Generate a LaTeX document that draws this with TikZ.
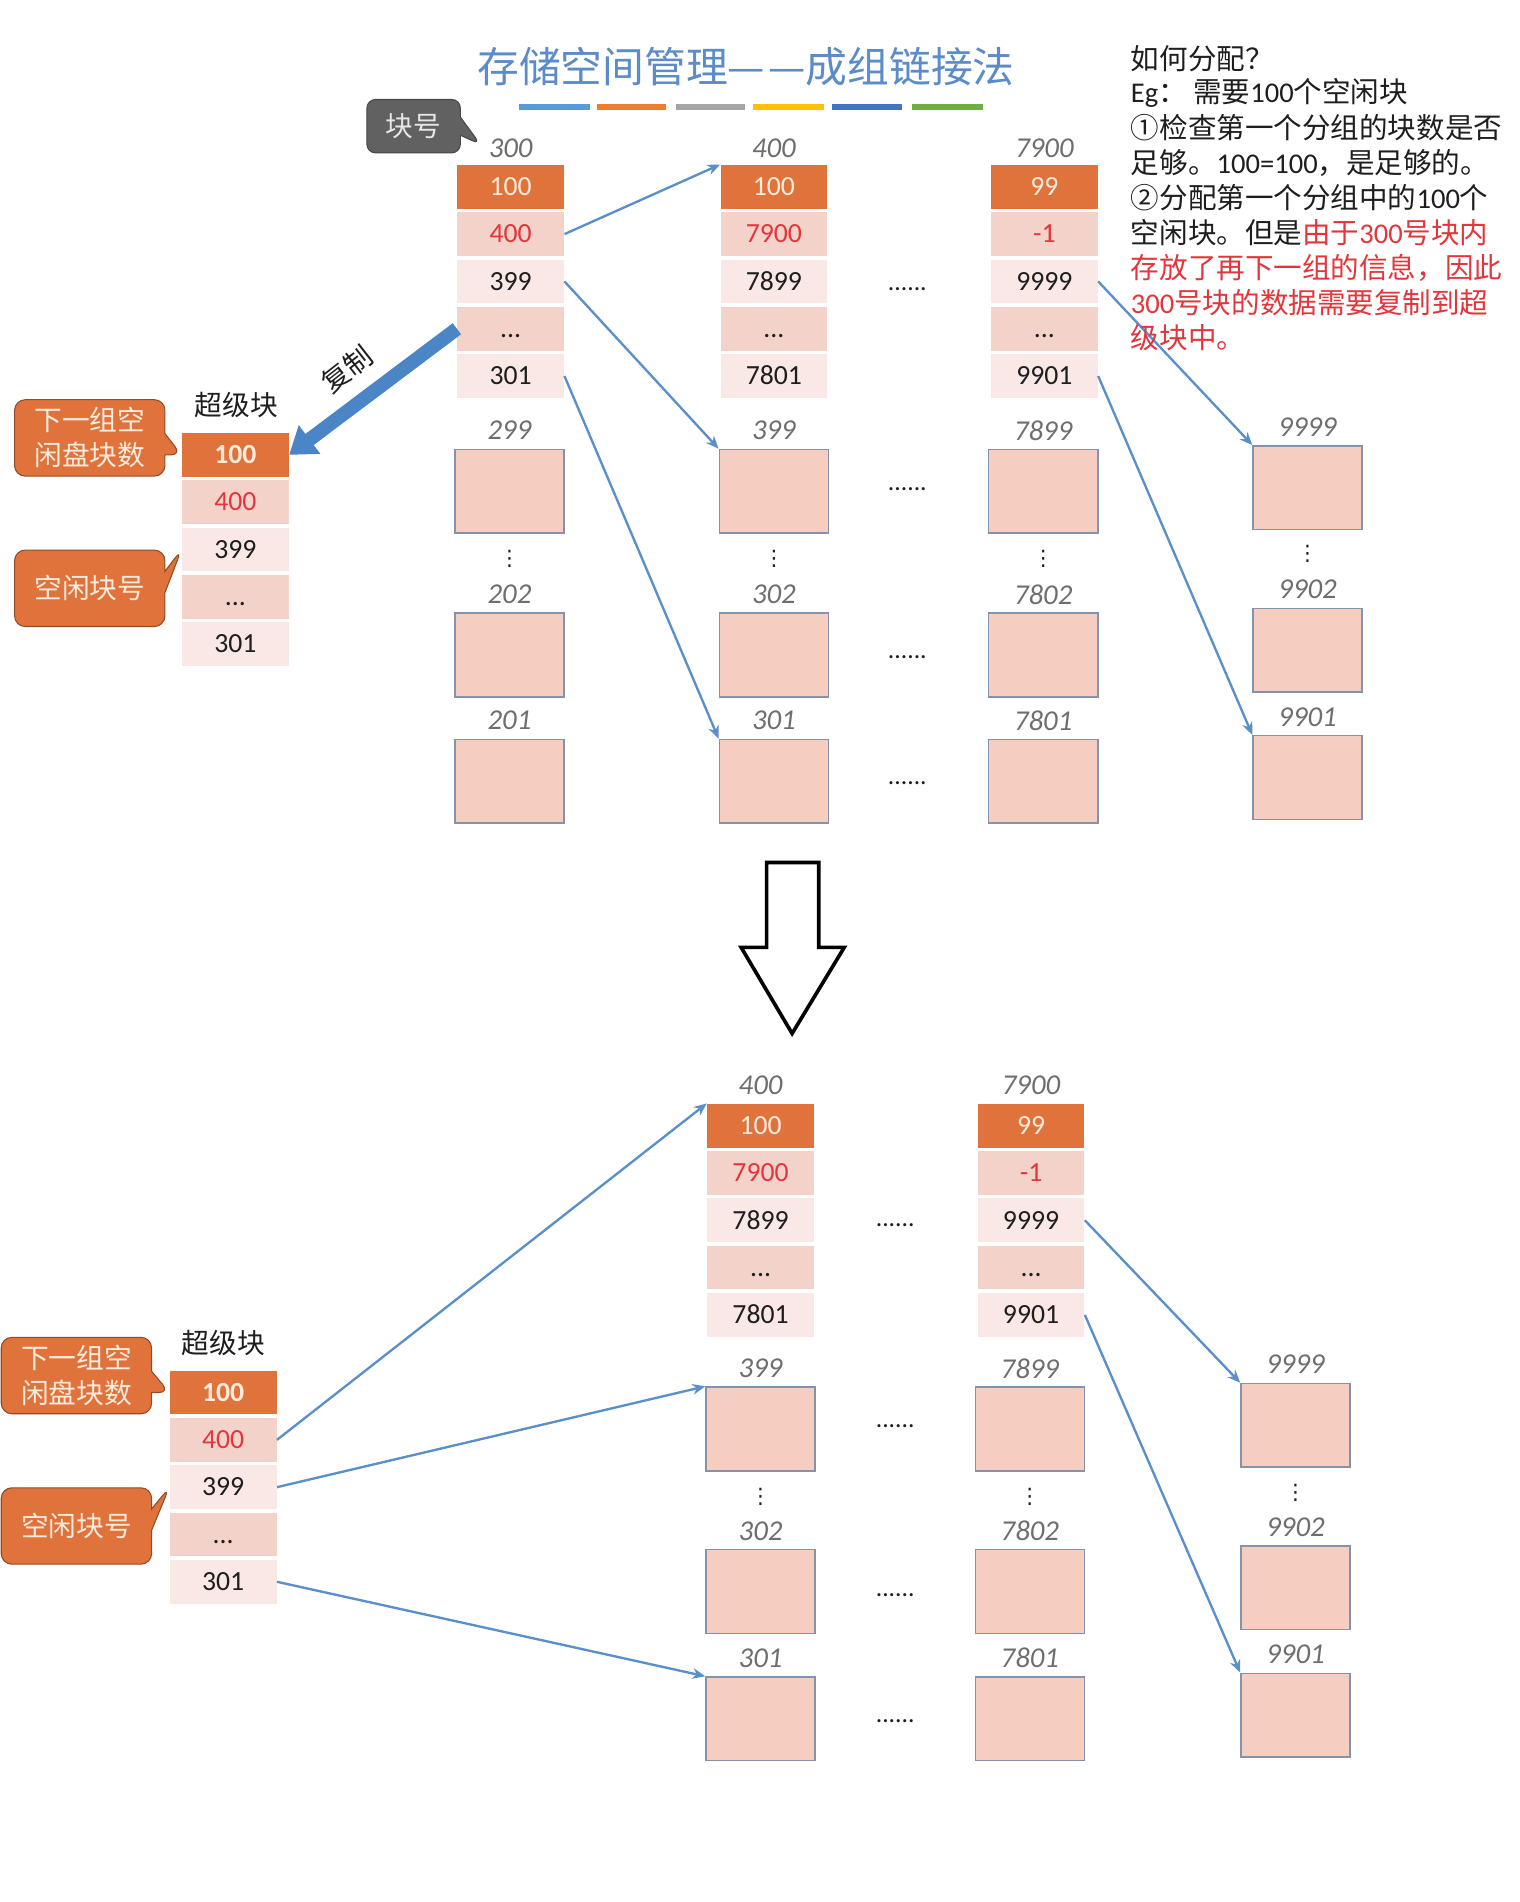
\documentclass[tikz,border=0pt]{standalone}
\usepackage{fontspec}
\setmainfont{Carlito}
\newfontfamily\cjk{Noto Sans CJK SC}
\newfontfamily\sym{DejaVu Sans}
\usetikzlibrary{arrows.meta, shapes.callouts}
\definecolor{TitleBlu}{HTML}{5B8CC8}
\definecolor{LinkBlu} {HTML}{5B8FC9}
\definecolor{CopyBlu} {HTML}{4A86C6}
\definecolor{HeadOrg} {HTML}{E0733B}
\definecolor{BandPnk} {HTML}{F3D2CA}
\definecolor{BandLt}  {HTML}{F9E8E5}
\definecolor{BlkPnk}  {HTML}{F6CDC1}
\definecolor{BlkEdge} {HTML}{8593AA}
\definecolor{NumGry}  {HTML}{6E6E6E}
\definecolor{TagGry}  {HTML}{616161}
\definecolor{TagTxt}  {HTML}{E6E6E6}
\definecolor{TxtRed}  {HTML}{E2363C}
\definecolor{Ink}     {HTML}{1E1E1E}
\definecolor{Cream}   {HTML}{FDEBDD}
\definecolor{BarBlu}  {HTML}{5B9BD5}
\definecolor{BarOrg}  {HTML}{ED7D31}
\definecolor{BarGry}  {HTML}{A5A5A5}
\definecolor{BarYel}  {HTML}{FFC000}
\definecolor{BarNvy}  {HTML}{4472C4}
\definecolor{BarGrn}  {HTML}{70AD47}

\begin{document}
\begin{tikzpicture}[
  x=0.02cm, y=-0.02cm,
  every node/.style={inner sep=0pt, align=center},
  zh/.style    = {font=\cjk\fontsize{13pt}{16.4pt}\selectfont},
  rnote/.style = {font=\cjk\fontsize{13.4pt}{16pt}\selectfont, text=Ink, anchor=west},
  cell/.style  = {minimum width=1.76cm, minimum height=0.72cm, text height=8.2pt,
                  text depth=0pt, font=\fontsize{13pt}{15pt}\selectfont},
  hrow/.style  = {cell, fill=HeadOrg, text=Cream},
  bandA/.style = {cell, fill=BandPnk, text=Ink},
  bandB/.style = {cell, fill=BandLt, text=Ink},
  lbl/.style   = {font=\fontsize{13.5pt}{16pt}\selectfont\itshape, text=NumGry},
  blk/.style   = {draw=BlkEdge, fill=BlkPnk, line width=0.7pt,
                  minimum width=1.8cm, minimum height=1.38cm},
  hdots/.style = {font=\fontsize{12pt}{14pt}\selectfont, text=Ink},
  vdot/.style  = {font=\sym\fontsize{10pt}{12pt}\selectfont, text=Ink},
  lnk/.style   = {draw=LinkBlu, line width=1.1pt, -{Stealth[length=6pt,width=5pt]}},
  orgtag/.style= {rectangle callout, zh, fill=HeadOrg, draw=HeadOrg!65!black,
                  line width=0.5pt, rounded corners=5pt, text=Cream,
                  minimum width=2.48cm, minimum height=1.26cm, callout pointer width=0.35cm},
  grytag/.style= {rectangle callout, zh, fill=TagGry, draw=TagGry!75!black,
                  line width=0.5pt, rounded corners=4pt, text=TagTxt,
                  minimum width=1.54cm, minimum height=0.88cm, callout pointer width=0.3cm},
]
\fill[white] (0,0) rectangle (1253,1568);
\useasboundingbox (0,0) rectangle (1253,1568);

% title and colour bars
\node[font=\cjk\fontsize{19.6pt}{22pt}\selectfont, text=TitleBlu] (title) at (615,55)
     {存储空间管理—\kern1.5pt—成组链接法};
\foreach \xa/\xb/\cl in {428/486/BarBlu, 492/549/BarOrg, 557/614/BarGry,
                         621/679/BarYel, 686/744/BarNvy, 752/810/BarGrn}{
  \fill[fill=\cl] (\xa,86) rectangle (\xb,91);
}

% group tables (superblocks and index blocks)
\foreach \nm/\cx/\cy/\va/\vb/\vc/\ve in {
    s1/194/375/\textbf{100}/400/399/301,
    t300/421/154/100/400/399/301,
    t400/638/154/100/7900/7899/7801,
    t7900/861/154/99/-1/9999/9901,
    s2/184/1148/\textbf{100}/400/399/301,
    b400/627/928/100/7900/7899/7801,
    b7900/850/928/99/-1/9999/9901}{
  \node[hrow]               (\nm-1) at (\cx,\cy)     {\va};
  \node[bandA, text=TxtRed] (\nm-2) at (\cx,\cy+39)  {\vb};
  \node[bandB]              (\nm-3) at (\cx,\cy+78)  {\vc};
  \node[bandA]              (\nm-4) at (\cx,\cy+117) {...};
  \node[bandB]              (\nm-5) at (\cx,\cy+156) {\ve};
}
\node[lbl] (t300-l)  at (421,122) {300};
\node[lbl] (t400-l)  at (638,122) {400};
\node[lbl] (t7900-l) at (861,122) {7900};
\node[lbl] (b400-l)  at (627,895) {400};
\node[lbl] (b7900-l) at (850,895) {7900};
\node[zh, text=Ink] (s1-l) at (195,334)  {超级块};
\node[zh, text=Ink] (s2-l) at (184,1107) {超级块};

% free blocks
\foreach \nm/\cx/\cy/\txt in {
    k299/420/405/299, k202/420/540/202, k201/420/644/201,
    k399/638/405/399, k302/638/540/302, k301/638/644/301,
    k7899/860/405/7899, k7802/860/540/7802, k7801/860/644/7801,
    k9999/1078/402/9999, k9902/1078/536/9902, k9901/1078/641/9901,
    m399/627/1178/399, m302/627/1312/302, m301/627/1417/301,
    m7899/849/1178/7899, m7802/849/1312/7802, m7801/849/1417/7801,
    m9999/1068/1175/9999, m9902/1068/1309/9902, m9901/1068/1414/9901}{
  \node[blk] (\nm)   at (\cx,\cy)    {};
  \node[lbl] (\nm-l) at (\cx,\cy-50) {\txt};
}
\foreach \i/\cx/\cy in {1/420/461, 2/638/461, 3/860/461, 4/1078/457,
                        5/627/1234, 6/849/1234, 7/1068/1231}{
  \node[vdot] (vd\i) at (\cx,\cy) {⋮};
}
\foreach \i/\cx/\cy in {1/748/238, 2/748/403, 3/748/542, 4/748/646,
                        5/738/1010, 6/738/1176, 7/738/1315, 8/738/1419}{
  \node[hdots] (hd\i) at (\cx,\cy) {......};
}

% callouts
\coordinate (kp) at (396,119);
\node[grytag, callout absolute pointer={(kp)}] (tg0) at (341,104) {块号};
\node[orgtag, callout absolute pointer={(s1-1.west)}] (tg1) at (74,361) {下一组空\\闲盘块数};
\node[orgtag, callout absolute pointer={(s1-3.west)}] (tg2) at (74,485) {空闲块号};
\node[orgtag, callout absolute pointer={(s2-1.west)}] (tg3) at (63,1134) {下一组空\\闲盘块数};
\node[orgtag, callout absolute pointer={(s2-3.west)}] (tg4) at (63,1258) {空闲块号};

% links
\foreach \a/\b in {t300-2.east/t400-1.north west, t300-3.east/k399.north west,
                   t300-5.east/k301.north west, t7900-3.east/k9999.north west,
                   t7900-5.east/k9901.north west, s2-2.east/b400-1.north west,
                   s2-3.east/m399.north west, s2-5.east/m301.north west,
                   b7900-3.east/m9999.north west, b7900-5.east/m9901.north west}{
  \draw[lnk] (\a) -- (\b);
}
\draw[CopyBlu, line width=6.5pt, -{Triangle[length=12pt,width=16pt]}]
     (t300-4.west) -- (s1-1.east);
\node[zh, text=Ink, rotate=38] (cpy) at (286,304) {复制};

% hollow down arrow
\draw[line width=1.7pt, line join=miter]
     (632,711) -- (675,711) -- (675,781) -- (696,781) -- (653,852)
     -- (611,781) -- (632,781) -- cycle;

% explanation text
\node[rnote] (r1) at (932,48)     {如何分配？};
\node[rnote] (r2) at (932,76.75)  {{\rmfamily Eg}：\ 需要{\rmfamily 100}个空闲块};
\node[rnote] (r3) at (932,105.5)  {①检查第一个分组的块数是否};
\node[rnote] (r4) at (932,134.25) {足够。{\rmfamily 100=100}，是足够的。};
\node[rnote] (r5) at (932,163)    {②分配第一个分组中的{\rmfamily 100}个};
\node[rnote] (r6) at (932,191.75) {空闲块。但是\textcolor{TxtRed}{由于{\rmfamily 300}号块内}};
\node[rnote, text=TxtRed] (r7) at (932,220.5)  {存放了再下一组的信息，因此};
\node[rnote, text=TxtRed] (r8) at (932,249.25) {{\rmfamily 300}号块的数据需要复制到超};
\node[rnote, text=TxtRed] (r9) at (932,278)    {级块中。};
\end{tikzpicture}
\end{document}
